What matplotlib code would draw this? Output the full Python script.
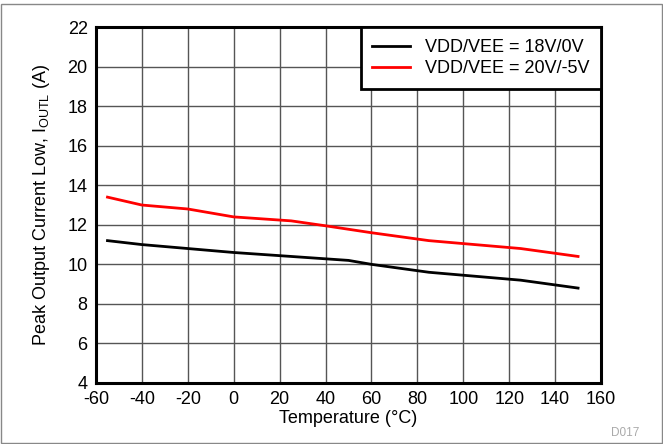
import numpy as np
import matplotlib.pyplot as plt
from matplotlib.patches import Rectangle

plt.rcParams['font.family'] = ['Liberation Sans', 'DejaVu Sans']
plt.rcParams['axes.unicode_minus'] = False

temp_18 = [-55, -40, -20, 0, 25, 50, 60, 85, 100, 125, 150]
iout_18 = [11.2, 11.0, 10.8, 10.6, 10.4, 10.2, 10.0, 9.6, 9.45, 9.2, 8.8]
temp_20 = [-55, -40, -20, 0, 25, 40, 60, 85, 100, 125, 150]
iout_20 = [13.4, 13.0, 12.8, 12.4, 12.2, 11.95, 11.6, 11.2, 11.05, 10.8, 10.4]
labels = ["VDD/VEE = 18V/0V", "VDD/VEE = 20V/-5V"]

fig = plt.figure(figsize=(6.63, 4.44), dpi=100)
ax = fig.add_axes([0.1448, 0.1374, 0.7617, 0.8016])

ax.plot(temp_18, iout_18, color='black', lw=2, label=labels[0])
ax.plot(temp_20, iout_20, color='#ff0000', lw=2, label=labels[1])

ax.set_xlim(-60, 160)
ax.set_ylim(4, 22)
ax.set_xticks(np.arange(-60, 161, 20))
ax.set_yticks(np.arange(4, 23, 2))
ax.grid(True, color='#555555', lw=1)
ax.tick_params(length=0, labelsize=13, pad=6)
for s in ax.spines.values():
    s.set_linewidth(2.2)

ax.set_xlabel("Temperature (°C)", fontsize=13, labelpad=1)
ax.set_ylabel(r"Peak Output Current Low, I$_{\mathregular{OUTL}}$ (A)", fontsize=13, labelpad=11)

leg = ax.legend(loc='upper right', borderaxespad=0, fontsize=13, fancybox=False,
                framealpha=1, edgecolor='black', handlelength=2.1, handletextpad=0.8,
                borderpad=0.65, labelspacing=0.25)
leg.get_frame().set_linewidth(2)

fig.text(0.965, 0.012, "D017", color='#aaaaaa', fontsize=8.5, ha='right', va='bottom')
fig.patches.append(Rectangle((0.002, 0.002), 0.996, 0.988, transform=fig.transFigure,
                             fill=False, edgecolor='#888888', lw=1))

fig.savefig("out.png", dpi=100)
